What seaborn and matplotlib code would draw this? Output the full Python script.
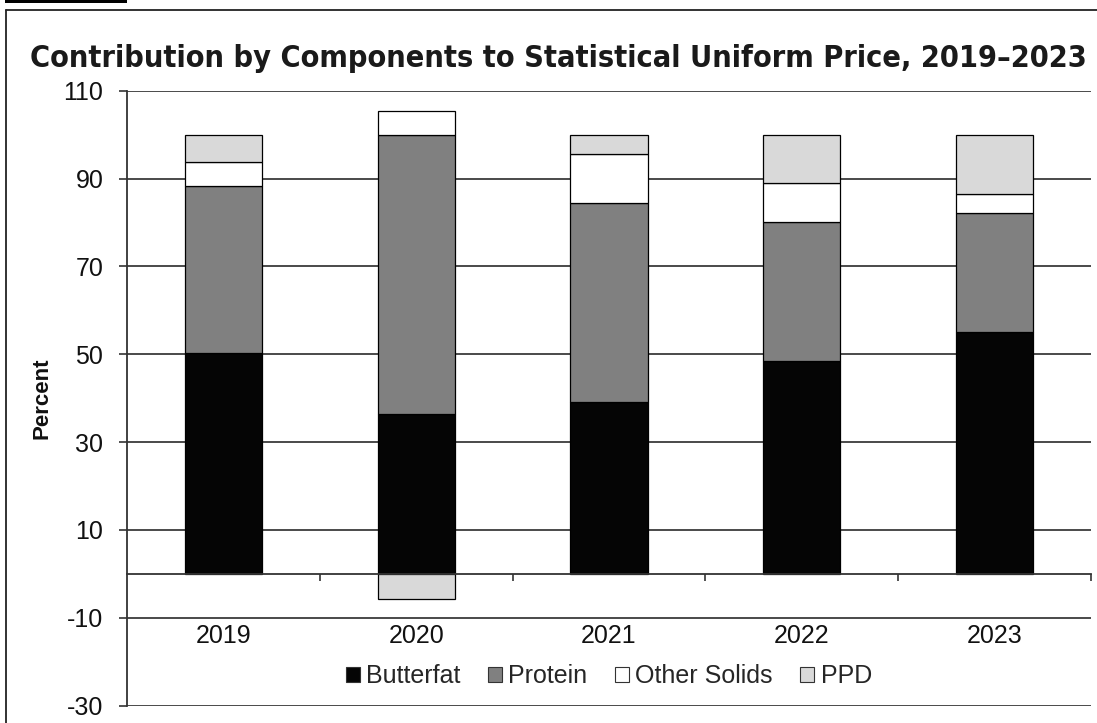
import matplotlib
matplotlib.use("Agg")
import matplotlib.pyplot as plt
from matplotlib.patches import Patch, Rectangle
from matplotlib.lines import Line2D
import numpy as np
import seaborn as sns

years = ["2019", "2020", "2021", "2022", "2023"]
butterfat = [50.4, 36.5, 39.2, 48.4, 55.0]
protein = [38.0, 63.5, 45.2, 31.7, 27.1]
other_solids = [5.4, 5.4, 11.3, 8.9, 4.4]
ppd = [6.2, -5.6, 4.3, 11.0, 13.5]

components = ["Butterfat", "Protein", "Other Solids", "PPD"]
colors = ["#050505", "#808080", "#ffffff", "#d9d9d9"]
y_ticks = [-30, -10, 10, 30, 50, 70, 90, 110]
title = "Contribution by Components to Statistical Uniform Price, 2019\u20132023"

W, H = 1097, 723


def fx(px):
    return px / W


def fy(py):
    return 1 - py / H


sns.set_style("white")
plt.rcParams["font.family"] = ["Liberation Sans", "DejaVu Sans"]
plt.rcParams["axes.unicode_minus"] = False

fig = plt.figure(figsize=(W / 100, H / 100), dpi=100)
ax = fig.add_axes([fx(127), fy(705.7), (1091 - 127) / W, 615 / H])

# stacked bars: positives stack up from 0, negatives stack down from 0
series = [butterfat, protein, other_solids, ppd]
pos_base = np.zeros(len(years))
neg_base = np.zeros(len(years))
for name, vals, col in zip(components, series, colors):
    vals = np.array(vals, dtype=float)
    bottom = np.where(vals >= 0, pos_base, neg_base)
    sns.barplot(x=years, y=vals, bottom=bottom, color=col, width=0.4,
                saturation=1, edgecolor="black", linewidth=0.9, ax=ax,
                zorder=3)
    pos_base += np.where(vals >= 0, vals, 0)
    neg_base += np.where(vals < 0, vals, 0)

ax.set_xlim(-0.5, 4.5)
ax.set_ylim(-30, 110)
ax.set_yticks(y_ticks)
ax.yaxis.grid(True, color="#3c3c3c", linewidth=1.3)
ax.set_axisbelow(True)
ax.set_xlabel("")
ax.set_ylabel("")

for side in ["top", "right"]:
    ax.spines[side].set_visible(False)
ax.spines["left"].set_color("#333333")
ax.spines["left"].set_linewidth(1.3)
ax.spines["bottom"].set_position(("data", 0))
ax.spines["bottom"].set_color("#333333")
ax.spines["bottom"].set_linewidth(1.3)
ax.spines["bottom"].set_zorder(4)

ax.set_xticks(range(len(years)))
ax.set_xticklabels(years)
ax.set_xticks(np.arange(0.5, len(years), 1), minor=True)
ax.tick_params(axis="x", which="major", bottom=True, length=0, pad=36,
               labelsize=18, labelcolor="#111111")
ax.tick_params(axis="x", which="minor", bottom=True, length=5, width=1.2,
               direction="out", color="#333333")
ax.tick_params(axis="y", left=True, length=6, width=1.2, direction="out",
               color="#333333", pad=11, labelsize=18, labelcolor="#111111")

handles = [Patch(facecolor=c, edgecolor="#333333", linewidth=0.8) for c in colors]
ax.legend(handles, components, loc="center", bbox_to_anchor=(0.5, 0.048),
          ncol=4, frameon=False, fontsize=18, handlelength=0.56,
          handleheight=0.56, handletextpad=0.25, columnspacing=1.1)

fig.text(fx(42), fy(398), "Percent", rotation=90, ha="center", va="center",
         fontsize=16, fontweight="bold",
         family=["Liberation Sans Narrow", "Liberation Sans"], color="#111111")

t = fig.text(fx(558), fy(67), title, ha="center", va="baseline", fontsize=20,
             fontweight="bold", family=["DejaVu Sans"], fontstretch="condensed",
             color="#1a1a1a")
fig.canvas.draw()
tw = t.get_window_extent().width
t.set_fontsize(20 * 1063 / tw)

# frame lines and the black tab at the top-left corner
fig.add_artist(Line2D([fx(5.5), fx(5.5)], [0, fy(9.5)], color="#222222", lw=1.3))
fig.add_artist(Line2D([fx(5.5), 1], [fy(9.5), fy(9.5)], color="#222222", lw=1.3))
fig.add_artist(Rectangle((fx(5), fy(3)), fx(122), 3 / H, transform=fig.transFigure,
                         facecolor="black", edgecolor="none"))

fig.savefig("out.png", dpi=100)
